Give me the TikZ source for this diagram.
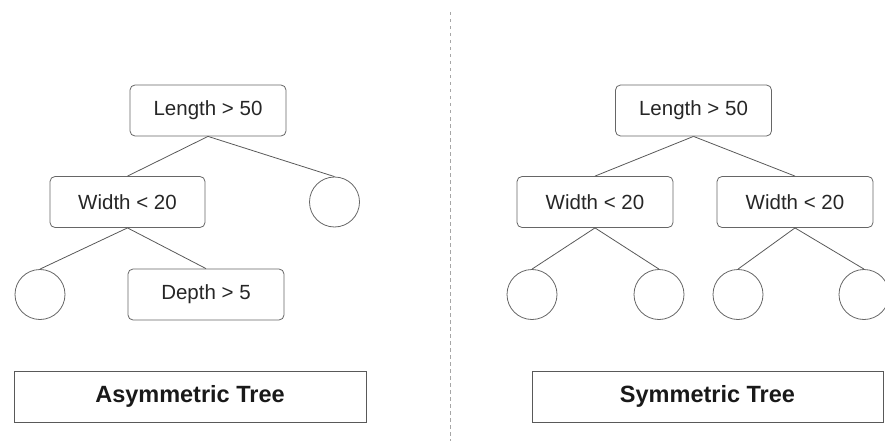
\documentclass[tikz,border=0pt]{standalone}
\usepackage{fontspec}
\setmainfont{Liberation Sans}
\begin{document}
\begin{tikzpicture}[x=1pt,y=-1pt,
  cond/.style={draw=black!60,line width=0.8pt,rounded corners=5pt,minimum width=156pt,minimum height=51pt,inner sep=0pt,font=\fontsize{20.5}{24}\selectfont,text=black!85},
  leaf/.style={draw=black!60,line width=0.8pt,circle,minimum size=50pt,inner sep=0pt},
  caption/.style={draw=black!65,line width=1pt,minimum height=51pt,inner sep=0pt,font=\fontsize{23.5}{28}\selectfont\bfseries,text=black!90},
  edge/.style={draw=black!65,line width=0.8pt}]
\useasboundingbox (0,0) rectangle (885,441);
\begin{scope}
\clip (0,0) rectangle (885,441);
% divider
\coordinate (d1) at (450,12);
\coordinate (d2) at (450,441);
\draw[black!35,line width=1pt,dash pattern=on 3.5pt off 3.5pt] (d1) -- (d2);
% asymmetric tree
\node[cond] (aL) at (208,110.5) {Length > 50};
\node[cond,minimum width=155pt] (aW) at (127.5,202) {Width < 20};
\node[leaf] (aC1) at (334.5,202) {};
\node[leaf] (aC2) at (40,294.5) {};
\node[cond] (aD) at (206,294.5) {Depth > 5};
\draw[edge] (aL.south) -- (aW.north);
\draw[edge] (aL.south) -- (aC1.north);
\draw[edge] (aW.south) -- (aC2.north);
\draw[edge] (aW.south) -- (aD.north);
% symmetric tree
\node[cond] (sL) at (693.5,110.5) {Length > 50};
\node[cond] (sW1) at (595,202) {Width < 20};
\node[cond] (sW2) at (795,202) {Width < 20};
\node[leaf] (sC1) at (532,294.5) {};
\node[leaf] (sC2) at (659,294.5) {};
\node[leaf] (sC3) at (738,294.5) {};
\node[leaf] (sC4) at (864,294.5) {};
\draw[edge] (sL.south) -- (sW1.north);
\draw[edge] (sL.south) -- (sW2.north);
\draw[edge] (sW1.south) -- (sC1.north);
\draw[edge] (sW1.south) -- (sC2.north);
\draw[edge] (sW2.south) -- (sC3.north);
\draw[edge] (sW2.south) -- (sC4.north);
% captions
\node[caption,minimum width=352pt] (capA) at (190,396.5) {Asymmetric Tree};
\node[caption,minimum width=351pt] (capS) at (707.5,396.5) {Symmetric Tree};
\end{scope}
\end{tikzpicture}
\end{document}
